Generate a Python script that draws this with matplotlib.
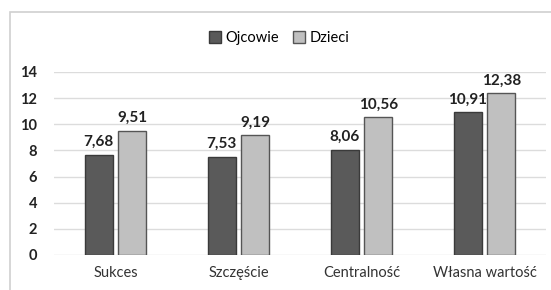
import matplotlib
matplotlib.use("Agg")
import matplotlib.pyplot as plt
from matplotlib.patches import Rectangle
import numpy as np

categories = ["Sukces", "Szczęście", "Centralność", "Własna wartość"]
ojcowie = [7.68, 7.53, 8.06, 10.91]
dzieci = [9.51, 9.19, 10.56, 12.38]
series_names = ["Ojcowie", "Dzieci"]
yticks = [0, 2, 4, 6, 8, 10, 12, 14]

plt.rcParams['font.family'] = ['Lato', 'DejaVu Sans']

fig = plt.figure(figsize=(5.51, 2.90), dpi=100)
fig.patches.append(Rectangle((10/551, -0.1), 1.1, 1 - 12/290 + 0.1,
                             transform=fig.transFigure, fill=False,
                             edgecolor='#d0d0d0', linewidth=1.2))
ax = fig.add_axes([54/551, 1 - 255/290, (546 - 54)/551, (255 - 72)/290])

x = np.arange(len(categories))
w = 0.228
off = 0.138
b1 = ax.bar(x - off, ojcowie, w, color='#5a5a5a', edgecolor='#3a3a3a', linewidth=1, label=series_names[0], zorder=3)
b2 = ax.bar(x + off, dzieci, w, color='#c0c0c0', edgecolor='#555555', linewidth=1, label=series_names[1], zorder=3)

for bars, vals in ((b1, ojcowie), (b2, dzieci)):
    for r, v in zip(bars, vals):
        ax.annotate(f"{v:.2f}".replace('.', ','), (r.get_x() + r.get_width()/2, v),
                    xytext=(0, 4), textcoords='offset points', ha='center', va='bottom',
                    fontsize=11, fontweight='bold', color='#222222')

ax.set_xlim(-0.5, len(categories) - 0.5)
ax.set_ylim(0, 14)
ax.set_yticks(yticks)
ax.set_yticklabels([str(t) for t in yticks], fontsize=10.5, fontweight='bold', color='#222222')
ax.set_xticks(x)
ax.set_xticklabels(categories, fontsize=10.5, color='#333333')
ax.tick_params(length=0)
ax.tick_params(axis='y', pad=12)
ax.tick_params(axis='x', pad=8)
ax.grid(axis='y', color='#dcdcdc', linewidth=1, zorder=0)
for s in ax.spines.values():
    s.set_visible(False)

leg = fig.legend(handles=[b1, b2], labels=series_names, loc='center', bbox_to_anchor=(279/551, 1 - 38/290),
                 ncol=2, frameon=False, fontsize=10.5, handlelength=0.8, handleheight=0.8,
                 handletextpad=0.3, columnspacing=1.0)

fig.savefig("out.png", dpi=100)
